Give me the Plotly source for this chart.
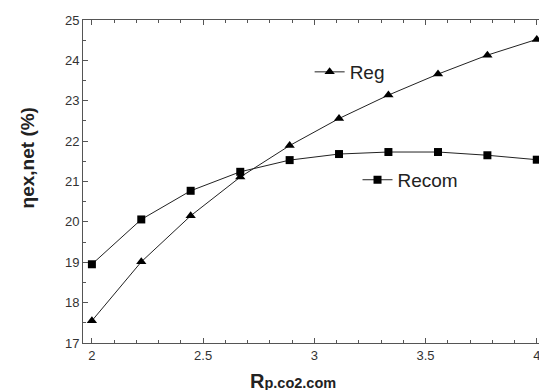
import plotly.graph_objects as go

x_vals = [2.0, 2.222, 2.444, 2.667, 2.889, 3.111, 3.333, 3.556, 3.778, 4.0]
reg_vals = [17.55, 19.01, 20.15, 21.11, 21.89, 22.56, 23.14, 23.66, 24.13, 24.52]
recom_vals = [18.95, 20.06, 20.77, 21.24, 21.53, 21.68, 21.73, 21.73, 21.65, 21.54]
x_tick_vals = [2, 2.5, 3, 3.5, 4]
x_tick_text = ["2", "2.5", "3", "3.5", "4"]

FONT = "Liberation Sans, Arial, sans-serif"
LINE = "#222222"

fig = go.Figure()
fig.add_trace(go.Scatter(
    x=x_vals, y=reg_vals, name="Reg", mode="lines+markers",
    line=dict(color=LINE, width=1),
    marker=dict(symbol="triangle-up", size=9, color="black"),
    legend="legend",
))
fig.add_trace(go.Scatter(
    x=x_vals, y=recom_vals, name="Recom", mode="lines+markers",
    line=dict(color=LINE, width=1),
    marker=dict(symbol="square", size=8, color="black"),
    legend="legend2",
))

axis_common = dict(
    showgrid=False, zeroline=False, showline=True, linecolor="#555555", linewidth=1,
    ticks="inside", ticklen=5, tickcolor="#555555",
    tickfont=dict(family=FONT, size=13, color="#333333"),
)

fig.update_layout(
    width=539, height=390,
    showlegend=True,
    margin=dict(l=83, r=0, t=20, b=47),
    plot_bgcolor="white", paper_bgcolor="white",
    font=dict(family=FONT, color="#222222"),
    xaxis=dict(
        range=[1.96, 4.01], tickvals=x_tick_vals, ticktext=x_tick_text,
        mirror="allticks", ticklabeloverflow="allow",
        minor=dict(dtick=0.1, tick0=2, ticks="inside", ticklen=3, tickcolor="#555555"),
        **axis_common,
    ),
    yaxis=dict(
        range=[17, 25], dtick=1,
        minor=dict(dtick=0.5, ticks="inside", ticklen=3, tickcolor="#555555"),
        **axis_common,
    ),
    legend=dict(
        x=0.497, y=0.839, xanchor="left", yanchor="middle",
        bgcolor="rgba(0,0,0,0)", font=dict(family=FONT, size=19, color="#222222"),
    ),
    legend2=dict(
        x=0.602, y=0.505, xanchor="left", yanchor="middle",
        bgcolor="rgba(0,0,0,0)", font=dict(family=FONT, size=19, color="#222222"),
    ),
    annotations=[
        dict(
            text="<b>R<span style='font-size:14.5px'>p.co2.com</span></b>", xref="paper", yref="paper",
            x=0.362, y=-0.076, xanchor="left", yanchor="top", showarrow=False,
            font=dict(family=FONT, size=20, color="#222222"),
        ),
        dict(
            text="<b>ηex,net (%)</b>", xref="paper", yref="paper",
            x=-0.121, y=0.574, xanchor="center", yanchor="middle", textangle=-90,
            showarrow=False, font=dict(family=FONT, size=19, color="#222222"),
        ),
    ],
)

fig.write_html("out.html", config={"displayModeBar": False},
               post_script="document.body.style.margin='0';document.body.style.overflow='hidden';")
